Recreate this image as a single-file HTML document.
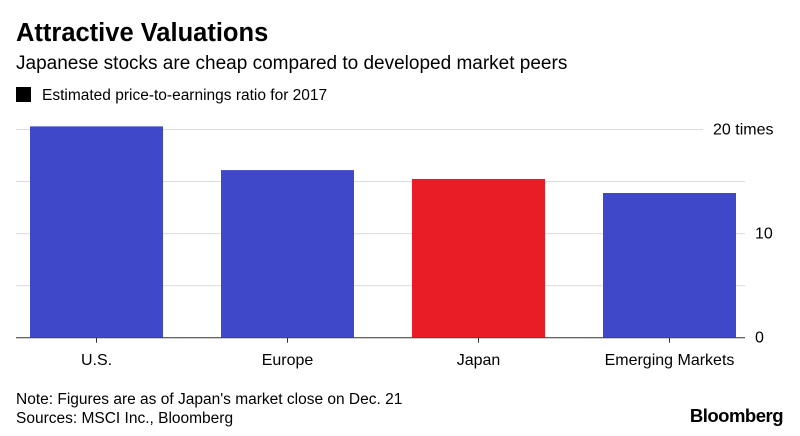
<!DOCTYPE html>
<html><head><meta charset="utf-8"><style>
body{margin:0;background:#fff;font-family:"Liberation Sans",Arial,sans-serif;}
#wrap{position:relative;width:800px;height:436px;overflow:hidden;}
</style></head><body>
<div id="wrap">
<svg id="chart" width="800" height="436">
<text x="16" y="41" font-size="25.5" font-weight="bold" fill="#000">Attractive Valuations</text>
<text x="16" y="69" font-size="19" fill="#000">Japanese stocks are cheap compared to developed market peers</text>
<rect x="16" y="87" width="15" height="15" fill="#000"/>
<text x="42" y="100" font-size="15.5" fill="#000">Estimated price-to-earnings ratio for 2017</text>
<g id="grid"></g><g id="bars"></g><g id="labels"></g>
<text x="16" y="404" font-size="15.5" fill="#000">Note: Figures are as of Japan's market close on Dec. 21</text>
<text x="16" y="423" font-size="15.5" fill="#000">Sources: MSCI Inc., Bloomberg</text>
<text x="783" y="422" font-size="18.5" font-weight="bold" text-anchor="end" fill="#000" letter-spacing="-0.5">Bloomberg</text>
</svg>
</div>
<script>
const categories = ["U.S.", "Europe", "Japan", "Emerging Markets"];
const values = [20.3, 16.1, 15.25, 13.9];
const colors = ["#3e48c8", "#3e48c8", "#e91d25", "#3e48c8"];
const ticks = [0, 5, 10, 15, 20];
const tickLabels = ["0", "", "10", "", "20 times"];
const NS = "http://www.w3.org/2000/svg";
const y = v => 337.7 - v * 10.41;
const x0 = 30, step = 191, bw = 133;
function mk(tag, attrs, parent){const e=document.createElementNS(NS,tag);for(const k in attrs)e.setAttribute(k,attrs[k]);parent.appendChild(e);return e;}
const grid = document.getElementById("grid"), bars = document.getElementById("bars"), labels = document.getElementById("labels");
ticks.forEach((t,i)=>{
  const isTop = i === ticks.length-1;
  const l = mk("line",{x1:16,x2:isTop?703:745,y1:y(t),y2:y(t),stroke:t===0?"#333":"#dcdcdc","stroke-width":1},grid);
  
  
  if(tickLabels[i]){
    const tx = mk("text",{x:isTop?713:755,y:y(t)+5,"font-size":16,fill:"#000"},labels);
    tx.textContent = tickLabels[i];
    
    
  }
});
categories.forEach((c,i)=>{
  const bx = x0 + i*step;
  const r = mk("rect",{x:bx,y:y(values[i]),width:bw,height:y(0)-y(values[i]),fill:colors[i]},bars);
  
  
  const tk = mk("line",{x1:bx+bw/2,x2:bx+bw/2,y1:y(0),y2:y(0)+5,stroke:"#333"},labels);
  
  
  const tx = mk("text",{x:bx+bw/2,y:365,"font-size":16,"text-anchor":"middle",fill:"#000"},labels);
  tx.textContent = c;
  
  
});
</script>
</body></html>
